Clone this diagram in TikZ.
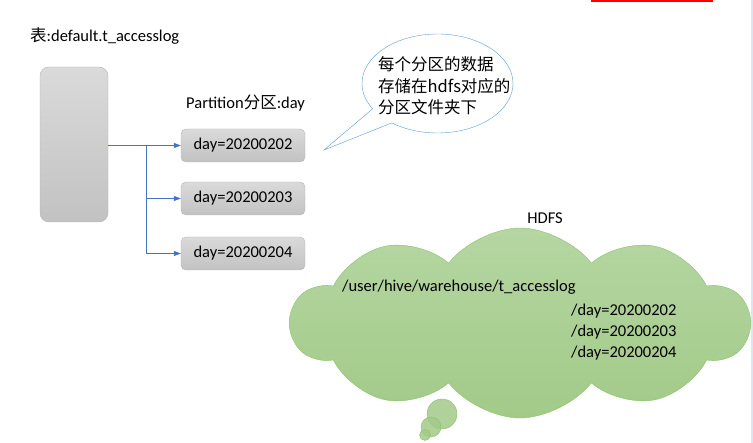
\documentclass[tikz,border=0pt]{standalone}
\usepackage{fontspec}
\setmainfont{Carlito}
\newfontfamily\cjk{Noto Sans CJK SC}
\usepackage{tikz}
\usetikzlibrary{calc}
\usetikzlibrary{shapes.symbols}
\usetikzlibrary{shapes.callouts}
\usetikzlibrary{arrows.meta}
\definecolor{boxedge}{HTML}{B4B4B4}
\definecolor{boxtop}{HTML}{DADADA}
\definecolor{boxbot}{HTML}{C2C2C2}
\definecolor{linkblue}{HTML}{4472C4}
\definecolor{bubblue}{HTML}{5B9BD5}
\definecolor{cloudedge}{HTML}{8DC070}
\definecolor{cloudtop}{HTML}{B5D6A2}
\definecolor{cloudbot}{HTML}{A2CA88}
\definecolor{edgeblue}{HTML}{DCE6F2}

\begin{document}
\begin{tikzpicture}[x=1pt,y=-1pt,font=\fontsize{16.5}{21}\selectfont,
    part/.style={draw=boxedge,rounded corners=5pt,top color=boxtop,bottom color=boxbot,
      minimum width=124pt,minimum height=33pt,inner sep=0pt},
    link/.style={draw=linkblue,-{Triangle[length=7pt,width=5pt]}}]
      \useasboundingbox (0,0) rectangle (753,443);
      \fill[red] (591,0) rectangle (713,2.5);
      \draw[edgeblue,line width=1.2pt] (752,0) -- (752,443);
      \node[anchor=west,inner sep=0pt] (title) at (30,36) {{\cjk 表}:default.t\_accesslog};
      \node[part,minimum width=68pt,minimum height=155pt,rounded corners=9pt] (tbl) at (74,144.5) {};
      \node[anchor=west,inner sep=0pt] (plabel) at (186,103) {Partition{\cjk 分区}:day};
      \foreach \d/\y in {02/145.5,03/198.5,04/253.5} {
        \node[part] (d\d) at (243,\y) {day=202002\d};
      }
      \coordinate (split) at (146,145.5);
      \draw[linkblue] (tbl.east |- d02.west) -- (split);
      \path[link] (split) -- (d02.west);
      \path[link] (split) |- (d03.west);
      \path[link] (split) |- (d04.west);
      % note bubble
      \node[ellipse callout,draw=bubblue,fill=white,minimum width=151pt,minimum height=99pt,
        callout absolute pointer={(324,150)},callout pointer arc=22] (bubble) at (437.5,83.5) {};
      \node[anchor=west,align=left,inner sep=0pt,font=\cjk\fontsize{16.5}{21.5}\selectfont] (note) at (378,86)
        {每个分区的数据\\存储在hdfs对应的\\分区文件夹下};
      % hdfs cloud
      \node (hdfs) at (545,218) {HDFS};
      \node[cloud,cloud puffs=10,cloud puff arc=105,aspect=2.5,draw=cloudedge,top color=cloudtop,
        bottom color=cloudbot,minimum width=458pt,minimum height=190pt,inner sep=0pt] (store) at (520,323) {};
      \foreach \cx/\cy/\r/\n in {442/414/15/1,431/427/10/2,425/435/5.5/3} {
        \node[circle,draw=cloudedge,fill=cloudbot,fill opacity=0.85,minimum size=2*\r pt,inner sep=0pt] (puff\n) at (\cx,\cy) {};
      }
      \node[anchor=west,inner sep=0pt] (root) at (342,287) {/user/hive/warehouse/t\_accesslog};
      \node[anchor=west,align=left,inner sep=0pt] (dirs) at (571,332) {/day=20200202\\/day=20200203\\/day=20200204};
    \end{tikzpicture}
\end{document}
